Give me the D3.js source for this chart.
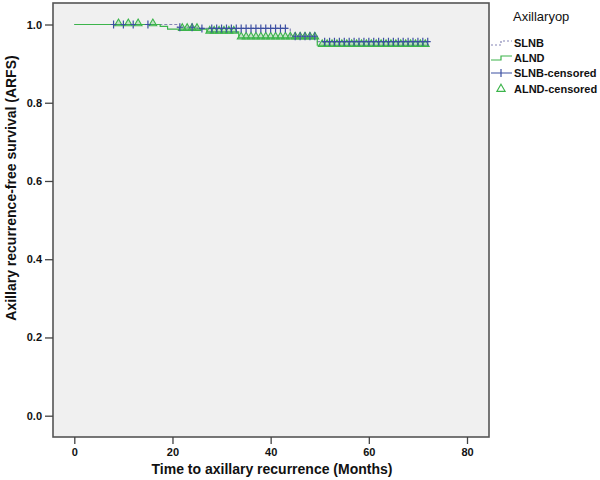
<!DOCTYPE html>
<html>
<head>
<meta charset="utf-8">
<script src="https://cdn.jsdelivr.net/npm/d3@7"></script>
<style>
  body { margin: 0; background: #fff; }
  text { font-family: "Liberation Sans", Arial, sans-serif; }
</style>
</head>
<body>
<div id="chart"></div>
<script>
// Kaplan-Meier curves, axillary recurrence-free survival by axillary operation

const groups = ['SLNB', 'ALND'];

// step times (months) and survival after each step
const slnbTimes = [0, 21, 25, 44, 49.5];
const slnbSurv = [1, 0.993, 0.990, 0.970, 0.956];
const alndTimes = [0, 17.5, 19, 27, 33.5, 49.5];
const alndSurv = [1, 0.995, 0.988, 0.981, 0.966, 0.947];
const endTime = 72;

// censored observations
const slnbCensored = [8, 10, 12, 15, 21.5, 24, 26, 28, 29, 30, 31, 32, 33, 34, 35, 36,
  37, 38, 39, 40, 41, 42, 43, 45, 46, 47, 48, 49, 51, 52, 53, 54, 55, 56, 57, 58,
  59, 60, 61, 62, 63, 64, 65, 66, 67, 68, 69, 70, 71, 72];
const alndCensored = [9, 11, 13, 16, 22, 23, 24, 25, 27.6, 28.5, 29.5, 30.5, 31.5, 32.5,
  34, 35, 36, 37, 38, 39, 40, 41, 42, 43, 44, 45, 46, 47, 48, 49, 50.5, 51.5, 52.5,
  53.5, 54.5, 55.5, 56.5, 57.5, 58.5, 59.5, 60.5, 61.5, 62.5, 63.5, 64.5, 65.5, 66.5,
  67.5, 68.5, 69.5, 70.5, 71.5];

const xTicks = [0, 20, 40, 60, 80];
const yTicks = [0, 0.2, 0.4, 0.6, 0.8, 1.0];

const W = 600, H = 480;
const frame = { left: 53, right: 489, top: 3, bottom: 437 };

const x = d3.scaleLinear().domain([0, 80]).range([74.3, 467]);
const y = d3.scaleLinear().domain([0, 1]).range([415.7, 24.5]);

const colors = { SLNB: '#8585b5', ALND: '#3cb44b', plus: '#3d50a2', tri: '#3cb44b' };

const svg = d3.select('#chart').append('svg')
  .attr('width', W)
  .attr('height', H);

svg.append('rect')
  .attr('x', frame.left).attr('y', frame.top)
  .attr('width', frame.right - frame.left)
  .attr('height', frame.bottom - frame.top)
  .attr('fill', '#f0f0f0')
  .attr('stroke', '#555')
  .attr('stroke-width', 1.6);

// axes
const xAxis = svg.append('g')
  .attr('transform', `translate(0,${frame.bottom})`)
  .call(d3.axisBottom(x).tickValues(xTicks).tickSize(7).tickPadding(4).tickFormat(d3.format('d')));
const yAxis = svg.append('g')
  .attr('transform', `translate(${frame.left},0)`)
  .call(d3.axisLeft(y).tickValues(yTicks).tickSize(8).tickPadding(3).tickFormat(d3.format('.1f')));

[xAxis, yAxis].forEach(ax => {
  ax.select('.domain').remove();
  ax.selectAll('.tick line').attr('stroke', '#444').attr('stroke-width', 1.3);
  ax.selectAll('.tick text')
    .attr('fill', '#111')
    .style('font-size', '11px')
    .style('font-weight', 'bold');
});

svg.append('text')
  .attr('x', 272).attr('y', 474)
  .attr('text-anchor', 'middle')
  .style('font-size', '14px').style('font-weight', 'bold')
  .attr('fill', '#111')
  .text('Time to axillary recurrence (Months)');

svg.append('text')
  .attr('transform', 'translate(16,188) rotate(-90)')
  .attr('text-anchor', 'middle')
  .style('font-size', '14px').style('font-weight', 'bold')
  .attr('fill', '#111')
  .text('Axillary recurrence-free survival (ARFS)');

// step curve helpers
function survAt(times, surv, t) {
  let s = surv[0];
  times.forEach((tt, i) => { if (tt <= t) s = surv[i]; });
  return s;
}
function stepPoints(times, surv) {
  const pts = times.map((t, i) => [t, surv[i]]);
  pts.push([endTime, surv[surv.length - 1]]);
  return pts;
}
const stepLine = d3.line().x(d => x(d[0])).y(d => y(d[1])).curve(d3.curveStepAfter);

svg.append('path')
  .datum(stepPoints(slnbTimes, slnbSurv))
  .attr('d', stepLine)
  .attr('fill', 'none')
  .attr('stroke', colors.SLNB)
  .attr('stroke-width', 1.2)
  .attr('stroke-dasharray', '3,2');

svg.append('path')
  .datum(stepPoints(alndTimes, alndSurv))
  .attr('d', stepLine)
  .attr('fill', 'none')
  .attr('stroke', colors.ALND)
  .attr('stroke-width', 1.2);

// censored markers
const tri = d3.symbol().type(d3.symbolTriangle).size(26);

svg.append('g').selectAll('path')
  .data(alndCensored)
  .enter()
  .append('path')
  .attr('d', tri)
  .attr('transform', d => `translate(${x(d)},${y(survAt(alndTimes, alndSurv, d)) - 1})`)
  .attr('fill', 'rgba(60,180,75,0.25)')
  .attr('stroke', colors.tri)
  .attr('stroke-width', 1.1);

svg.append('g').selectAll('path')
  .data(slnbCensored)
  .enter()
  .append('path')
  .attr('d', d => {
    const cx = x(d), cy = y(survAt(slnbTimes, slnbSurv, d));
    return `M${cx - 3},${cy}H${cx + 3}M${cx},${cy - 4}V${cy + 4}`;
  })
  .attr('fill', 'none')
  .attr('stroke', colors.plus)
  .attr('stroke-width', 1.2);

// legend
const lg = svg.append('g');
lg.append('text')
  .attr('x', 513).attr('y', 21)
  .style('font-size', '13px')
  .attr('fill', '#111')
  .text('Axillaryop');

const legendLabels = ['SLNB', 'ALND', 'SLNB-censored', 'ALND-censored'];
const legendY = [43, 58, 73, 89];

legendLabels.forEach((lab, i) => {
  lg.append('text')
    .attr('x', 514).attr('y', legendY[i] + 4)
    .style('font-size', '11px').style('font-weight', 'bold')
    .attr('fill', '#111')
    .text(lab);
});

lg.append('path')
  .attr('d', `M491,${legendY[0] + 2}H501V${legendY[0] - 2}H512`)
  .attr('fill', 'none').attr('stroke', colors.SLNB).attr('stroke-width', 1.2)
  .attr('stroke-dasharray', '2,2');
lg.append('path')
  .attr('d', `M491,${legendY[1] + 2}H501V${legendY[1] - 2}H512`)
  .attr('fill', 'none').attr('stroke', colors.ALND).attr('stroke-width', 1.2);
lg.append('path')
  .attr('d', `M491,${legendY[2]}H512M501,${legendY[2] - 4}V${legendY[2] + 4}`)
  .attr('fill', 'none').attr('stroke', colors.plus).attr('stroke-width', 1.2);
lg.append('path')
  .attr('d', tri.size(30))
  .attr('transform', `translate(501,${legendY[3]})`)
  .attr('fill', 'none').attr('stroke', colors.tri).attr('stroke-width', 1.1);
</script>
</body>
</html>
